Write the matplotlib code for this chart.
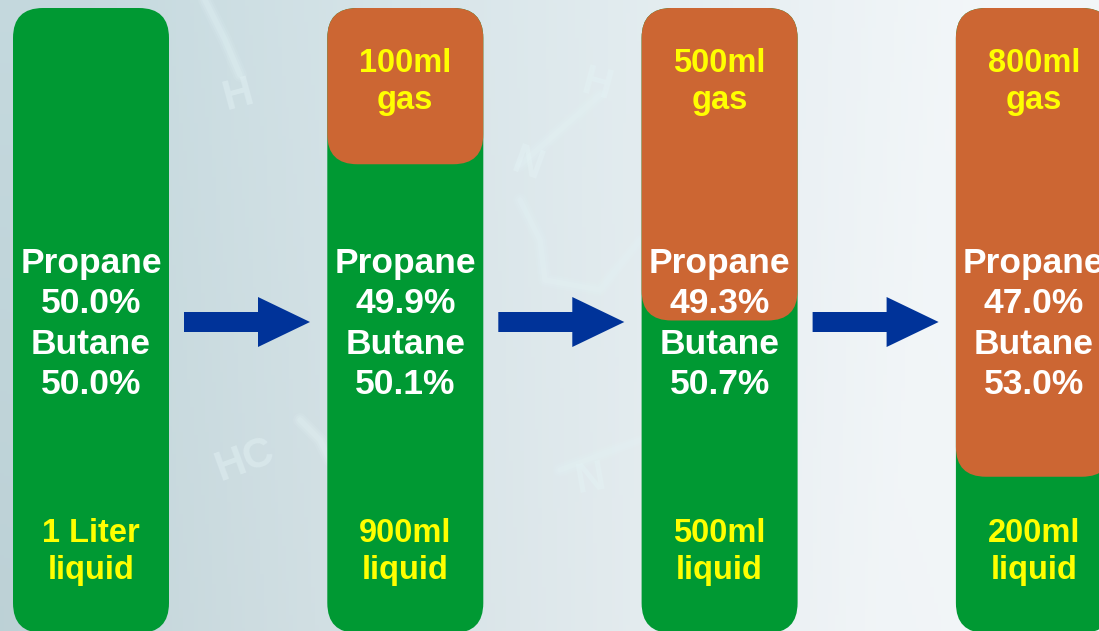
import numpy as np
import matplotlib
matplotlib.use("Agg")
import matplotlib.pyplot as plt
from matplotlib.patches import FancyBboxPatch, Polygon

plt.rcParams['font.family'] = ['Liberation Sans', 'DejaVu Sans']

# stages of the boil-off: liquid left, gas formed, composition of the liquid
liquid_labels = ["1 Liter", "900ml", "500ml", "200ml"]
gas_labels = [None, "100ml", "500ml", "800ml"]
propane_pct = [50.0, 49.9, 49.3, 47.0]
butane_pct = [50.0, 50.1, 50.7, 53.0]
gas_fill = [0.0, 0.25, 0.50, 0.75]   # share of the column shown as gas

GREEN = "#009933"
ORANGE = "#cc6633"
YELLOW = "#ffff00"
BLUE = "#003399"

W, H = 1099, 631
fig = plt.figure(figsize=(W / 100, H / 100), dpi=100)
ax = fig.add_axes([0, 0, 1, 1])
ax.set_xlim(0, W)
ax.set_ylim(H, 0)
ax.axis("off")

# soft bluish background, darker on the left, fading to white on the right
xx, yy = np.meshgrid(np.linspace(0, 1, 300), np.linspace(0, 1, 200))
t = np.clip(xx * 1.25 - 0.1 * (1 - yy), 0, 1) ** 0.9
left = np.array([0.77, 0.85, 0.87])
right = np.array([0.95, 0.965, 0.975])
bg = left[None, None, :] * (1 - t[..., None]) + right[None, None, :] * t[..., None]
bg -= 0.03 * (yy[..., None] * (1 - xx[..., None]))
ax.imshow(bg, extent=(0, W, H, 0), aspect="auto", zorder=0)

# faint, blurred molecule sketch in the background
bonds = [([205, 225, 240], [0, 40, 75]),
         ([520, 560, 600], [165, 130, 95]),
         ([520, 540, 545, 600, 640], [200, 240, 280, 290, 240]),
         ([300, 320, 330], [420, 440, 460]),
         ([560, 600, 640], [470, 455, 440])]
for lw, a in [(10, 0.12), (7, 0.18), (4, 0.25)]:
    for bx, by in bonds:
        ax.plot(bx, by, color="#e4f3f5", alpha=a, lw=lw, solid_capstyle="round", zorder=1)
for txt, x, y, rot in [("H", 238, 95, 15), ("N", 527, 165, -20), ("H", 597, 85, -15),
                       ("HC", 245, 460, 20), ("N", 590, 480, 10)]:
    ax.text(x, y, txt, fontsize=30, color="#e4f3f5", alpha=0.45, rotation=rot,
            ha="center", va="center", fontweight="bold", zorder=1)

col_left = [13 + 314.3 * i for i in range(4)]
col_w = 156
top, bottom = 8, 633
col_h = bottom - top
r = 30

for i, x0 in enumerate(col_left):
    cx = x0 + col_w / 2
    ax.add_patch(FancyBboxPatch((x0, top), col_w, col_h,
                                boxstyle=f"round,pad=0,rounding_size={r}",
                                fc=GREEN, ec="none", zorder=2))
    if gas_fill[i] > 0:
        ax.add_patch(FancyBboxPatch((x0, top), col_w, col_h * gas_fill[i],
                                    boxstyle=f"round,pad=0,rounding_size={r}",
                                    fc=ORANGE, ec="none", zorder=3))
        ax.text(cx, 63, gas_labels[i], color=YELLOW, fontsize=23.5, fontweight="bold",
                ha="center", va="center", zorder=4)
        ax.text(cx, 100, "gas", color=YELLOW, fontsize=23.5, fontweight="bold",
                ha="center", va="center", zorder=4)

    lines = ["Propane", f"{propane_pct[i]:.1f}%", "Butane", f"{butane_pct[i]:.1f}%"]
    for k, s in enumerate(lines):
        ax.text(cx, 263 + 40.5 * k, s, color="white", fontsize=25.5, fontweight="bold",
                ha="center", va="center", zorder=4)

    ax.text(cx, 534, liquid_labels[i], color=YELLOW, fontsize=23.5, fontweight="bold",
            ha="center", va="center", zorder=4)
    ax.text(cx, 571, "liquid", color=YELLOW, fontsize=23.5, fontweight="bold",
            ha="center", va="center", zorder=4)

    # arrow to the next stage
    if i < 3:
        a0 = x0 + col_w + 15
        yc = 322
        pts = [(a0, yc - 10), (a0 + 74, yc - 10), (a0 + 74, yc - 25), (a0 + 126, yc),
               (a0 + 74, yc + 25), (a0 + 74, yc + 10), (a0, yc + 10)]
        ax.add_patch(Polygon(pts, closed=True, fc=BLUE, ec="none", zorder=2))

fig.savefig("out.png", dpi=100)
